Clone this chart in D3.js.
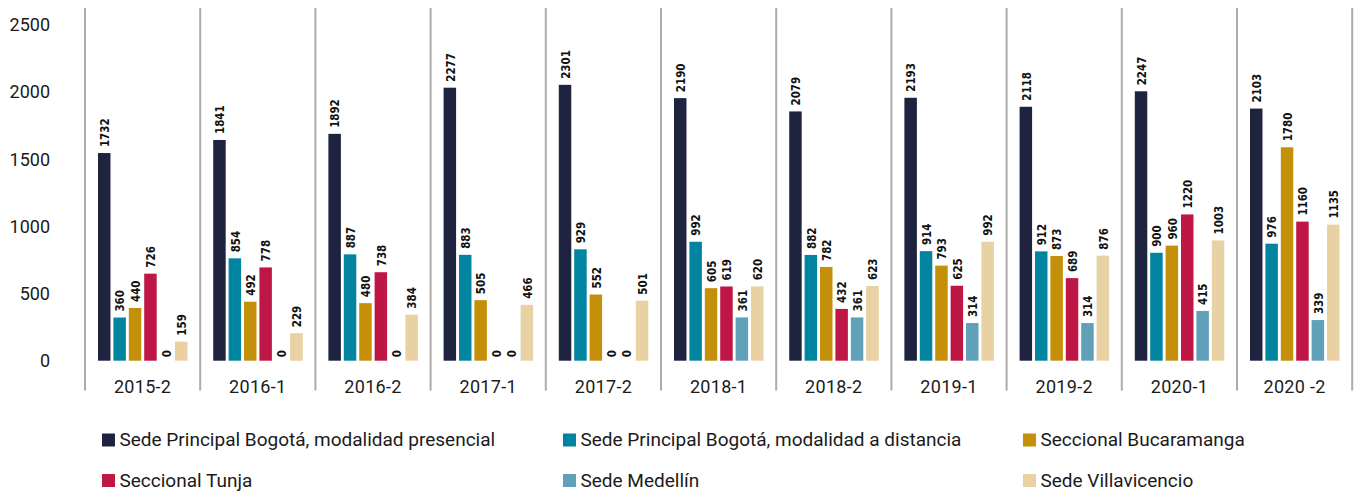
<!DOCTYPE html>
<meta charset="utf-8">
<head>
  <title>Estudiantes por sede</title>
</head>

<style>
body {
  margin: 0;
  background: #fff;
}
text {
  font-family: Roboto, "Noto Sans", sans-serif;
  fill: #1a1a1a;
}
.val {
  font-family: "DejaVu Sans Condensed", "DejaVu Sans", sans-serif;
  font-weight: bold;
  font-size: 13px;
}
</style>

<body>
  <svg width="1358" height="493"></svg>

  <script src="https://cdnjs.cloudflare.com/ajax/libs/d3/7.8.5/d3.min.js"></script>
  <script>
var width = 1358, height = 493

// periods on the x axis
var periods = ['2015-2', '2016-1', '2016-2', '2017-1', '2017-2', '2018-1',
  '2018-2', '2019-1', '2019-2', '2020-1', '2020 -2']

// one array per campus, same order as periods
var presencial   = [1732, 1841, 1892, 2277, 2301, 2190, 2079, 2193, 2118, 2247, 2103]
var distancia    = [360, 854, 887, 883, 929, 992, 882, 914, 912, 900, 976]
var bucaramanga  = [440, 492, 480, 505, 552, 605, 782, 793, 873, 960, 1780]
var tunja        = [726, 778, 738, 0, 0, 619, 432, 625, 689, 1220, 1160]
var medellin     = [0, 0, 0, 0, 0, 361, 361, 314, 314, 415, 339]
var villavicencio = [159, 229, 384, 466, 501, 620, 623, 992, 876, 1003, 1135]

var seriesNames = ['Sede Principal Bogotá, modalidad presencial',
  'Sede Principal Bogotá, modalidad a distancia',
  'Seccional Bucaramanga', 'Seccional Tunja', 'Sede Medellín', 'Sede Villavicencio']
var seriesValues = [presencial, distancia, bucaramanga, tunja, medellin, villavicencio]
var colors = ['#1e2340', '#00849f', '#c4900a', '#be1645', '#60a0b9', '#e8d1a2']

var yTicks = [0, 500, 1000, 1500, 2000, 2500]

var svg = d3.select('svg')

// the bars in the original sit on a taller scale than the printed tick labels
var y = d3.scaleLinear().domain([0, 2800]).range([360.7, 25])
var yLabel = d3.scaleLinear().domain([0, 2500]).range([360.7, 25])

var x0 = d3.scaleBand().domain(periods).range([85, 1352.2])
var x1 = d3.scaleBand().domain(d3.range(seriesNames.length))
  .range([13, 102.5]).paddingInner(0.19)

// y tick labels
svg.append('g').selectAll('text')
  .data(yTicks)
  .enter().append('text')
  .attr('x', 50)
  .attr('y', function(d) { return yLabel(d) })
  .attr('dy', '0.35em')
  .attr('text-anchor', 'end')
  .style('font-size', '18px')
  .text(function(d) { return d })

// grey separators between periods
var seps = periods.map(function(p) { return x0(p) })
seps.push(x0.range()[1])
svg.append('g').selectAll('line')
  .data(seps)
  .enter().append('line')
  .attr('x1', function(d) { return d })
  .attr('x2', function(d) { return d })
  .attr('y1', 8)
  .attr('y2', 390.5)
  .attr('stroke', '#ababab')
  .attr('stroke-width', 2)

// period labels
svg.append('g').selectAll('text')
  .data(periods)
  .enter().append('text')
  .attr('x', function(d) { return x0(d) + x0.bandwidth() / 2 })
  .attr('y', 392.7)
  .attr('text-anchor', 'middle')
  .style('font-size', '18px')
  .style('letter-spacing', '0.3px')
  .text(function(d) { return d })

// flatten into one record per bar
var cells = []
periods.forEach(function(p, i) {
  seriesValues.forEach(function(vals, s) {
    cells.push({ period: p, s: s, v: vals[i] })
  })
})

var g = svg.append('g')
g.selectAll('rect')
  .data(cells)
  .enter().append('rect')
  .attr('x', function(d) { return x0(d.period) + x1(d.s) })
  .attr('y', function(d) { return y(d.v) })
  .attr('width', x1.bandwidth())
  .attr('height', function(d) { return y(0) - y(d.v) })
  .attr('fill', function(d) { return colors[d.s] })

// value labels, rotated; squeezed a little along the text to look condensed
g.selectAll('text')
  .data(cells)
  .enter().append('text')
  .attr('class', 'val')
  .attr('transform', function(d) {
    var cx = x0(d.period) + x1(d.s) + x1.bandwidth() / 2
    var gap = d.v == 0 ? 3.5 : 6
    return 'translate(' + cx + ',' + (y(d.v) - gap) + ') rotate(-90) scale(0.88,1)'
  })
  .attr('dy', '0.36em')
  .style('fill', '#111')
  .text(function(d) { return d.v })

// legend, 3 columns x 2 rows
var legX = [102, 563, 1023]
var legY = [433.5, 474]
var leg = svg.append('g').selectAll('g')
  .data(seriesNames)
  .enter().append('g')
  .attr('transform', function(d, i) {
    return 'translate(' + legX[i % 3] + ',' + legY[Math.floor(i / 3)] + ')'
  })

leg.append('rect')
  .attr('width', 13)
  .attr('height', 13)
  .attr('fill', function(d, i) { return colors[i] })

leg.append('text')
  .attr('x', 17.5)
  .attr('y', 12.8)
  .style('font-size', '19px')
  .text(function(d) { return d })
  </script>
</body>
</html>
